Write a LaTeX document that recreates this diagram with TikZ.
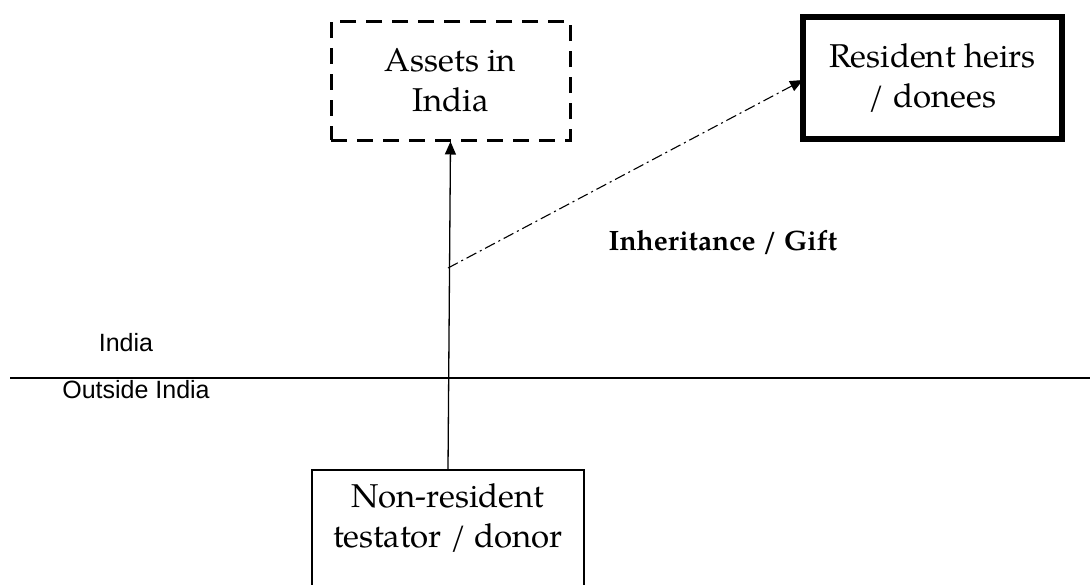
\documentclass[tikz,border=0pt]{standalone}
\usepackage{fontspec}
\setmainfont{TeX Gyre Pagella}
\newfontfamily\arialf{Liberation Sans}
\usetikzlibrary{arrows.meta}
\begin{document}
\begin{tikzpicture}[x=1pt,y=-1pt,
  boxtext/.style={font=\fontsize{33}{40}\selectfont, align=center, inner sep=0pt},
  dashbox/.style={draw, line width=3pt, dash pattern=on 16pt off 10pt, minimum width=239pt, minimum height=119pt, boxtext},
  thickbox/.style={draw, line width=6.5pt, minimum width=259pt, minimum height=122pt, boxtext},
  plainbox/.style={draw, line width=2.2pt, minimum width=272pt, minimum height=140pt, boxtext, anchor=north},
  sidelabel/.style={font=\arialf\fontsize{25}{28}\selectfont, inner sep=0pt},
  flowlabel/.style={font=\bfseries\fontsize{28}{32}\selectfont, inner sep=0pt},
  tip/.style={-{Triangle[length=13pt,width=11pt]}}
]
\useasboundingbox (0,0) rectangle (1090,584);
\node[dashbox] (assets) at (450.5,80.5) {Assets in\\India};
\node[thickbox] (heirs) at (932.5,78) {Resident heirs\\/ donees};
\node[plainbox] (donor) at (448,469) {};
\node[boxtext] (donortext) at (448,518) {Non-resident\\testator / donor};
\node[sidelabel] (india) at (126,343) {India};
\node[sidelabel] (outside) at (136,390) {Outside India};
\node[flowlabel] (flow) at (723,243) {Inheritance / Gift};
\coordinate (west) at (10,378);
\coordinate (east) at (1090,378);
\draw[line width=1.2pt] (west) -- (east);
\draw[line width=1.3pt, tip] (donor.north) -- (assets.south);
\coordinate (branch) at (448,268);
\coordinate (heirsin) at (803,80);
\draw[line width=1.1pt, dash pattern=on 11pt off 4pt on 2pt off 4pt, tip] (branch) -- (heirsin);
\end{tikzpicture}
\end{document}
